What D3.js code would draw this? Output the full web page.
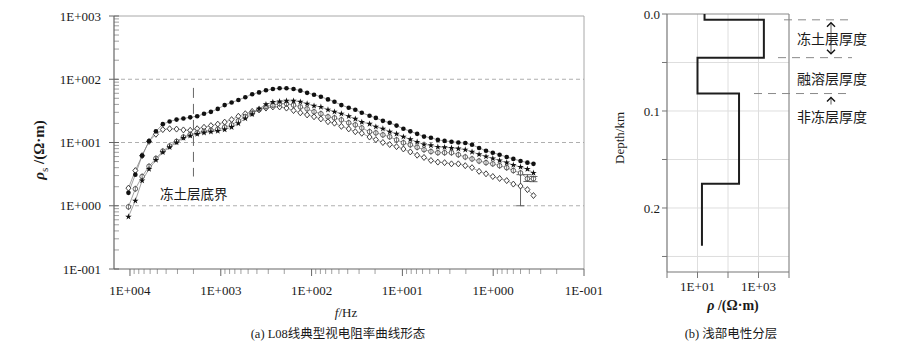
<!DOCTYPE html>
<html>
<head>
<meta charset="utf-8">
<script src="https://cdn.jsdelivr.net/npm/d3@7"></script>
<style>
  body { margin: 0; background: #fff; }
  svg text { font-family: "Liberation Serif", "Times New Roman", serif; fill: #1a1a1a; }
  svg text.cjk { font-family: "Noto Sans CJK SC", sans-serif; }
</style>
</head>
<body>
<svg id="chart" width="900" height="344"></svg>
<script>
// ---- (a) apparent resistivity curves, line L08 ----
const freqHz = [10400, 8730, 7350, 6170, 5180, 4350, 3660, 3070, 2580, 2170,
  1820, 1530, 1285, 1080, 906, 760, 640, 537, 451, 379,
  318, 267, 225, 189, 158, 133, 112, 94, 79, 66,
  56, 47, 39, 33, 28, 23, 19.6, 16.4, 13.8, 11.6,
  9.75, 8.18, 6.88, 5.78, 4.85, 4.07, 3.43, 2.88, 2.42, 2.03,
  1.71, 1.43, 1.2, 1.01, 0.85, 0.71, 0.6, 0.5, 0.42, 0.36];

const rhoDot = [1.6, 3.1, 6.2, 10.5, 15, 19.5, 21.5, 23, 24, 25,
  26, 28.5, 30.5, 34, 39, 43, 47, 52, 58, 62,
  67, 70, 72, 72, 70, 66, 61, 57, 53, 48,
  44, 39, 35.5, 33, 29.5, 26.5, 24.5, 22, 20.5, 18.5,
  16.5, 15, 13.7, 12.4, 11.9, 11, 10.6, 10.3, 10, 9.8,
  9.2, 8.2, 7.4, 6.9, 6.4, 5.9, 5.5, 5.1, 4.8, 4.6];

const rhoStar = [0.67, 1.2, 2.5, 3.8, 5.3, 7.0, 8.4, 10, 11.8, 12.8,
  13.6, 14.3, 14.8, 15.2, 16, 17.5, 20, 24, 28, 34,
  40, 43.5, 44.5, 45.5, 45.5, 44, 41, 38, 36.5, 33,
  30.6, 28.5, 26, 23.6, 21, 19.7, 17.7, 16.5, 14.8, 13.7,
  12.3, 11.2, 10.2, 9.3, 9.0, 8.5, 8.4, 8.2, 8.0, 7.7,
  7.1, 6.5, 6.0, 5.6, 5.2, 4.8, 4.4, 4.1, 3.8, 3.3];

const rhoRing = [0.96, 1.85, 2.9, 4.2, 5.6, 7.3, 8.8, 10.4, 12.2, 13.4,
  14.2, 15, 15.6, 16.2, 17.5, 19, 22, 25.5, 29, 33,
  37, 39, 41, 41, 39, 36.5, 34, 30.6, 28.5, 25.5,
  24.5, 22.8, 20.5, 19, 17, 14.8, 14.2, 13.2, 12.3, 11,
  9.9, 9.2, 8.4, 7.7, 7.2, 6.9, 6.9, 6.9, 6.4, 5.9,
  5.5, 5.1, 4.8, 4.6, 4.3, 4.0, 3.6, 3.3, 2.67, 2.67];

const rhoDiamond = [1.9, 3.6, 6.2, 10.4, 13.5, 16, 16.5, 16.3, 15.8, 15.6,
  16.5, 17.4, 18.5, 19.5, 21, 23, 26, 28.5, 31, 33,
  35, 36.5, 36.5, 35, 32, 29.5, 27.3, 25.5, 23.6, 21.3,
  20.2, 18, 16.4, 14.8, 14, 12.2, 11.1, 10, 9.3, 8.6,
  7.9, 7.1, 6.3, 5.8, 5.2, 4.9, 4.8, 4.6, 4.6, 4.3,
  4.0, 3.5, 3.2, 2.9, 2.7, 2.5, 2.2, 2.05, 1.8, 1.45];

// error bars at the lowest frequencies
const errIndex = [57, 58, 59];
const errLow = [1.0, 2.42, 2.4];
const errHigh = [3.1, 3.1, 2.9];

const yTickValues = [0.1, 1, 10, 100, 1000];
const yTickLabels = ["1E-001", "1E+000", "1E+001", "1E+002", "1E+003"];
const xTickValues = [10000, 1000, 100, 10, 1, 0.1];
const xTickLabels = ["1E+004", "1E+003", "1E+002", "1E+001", "1E+000", "1E-001"];

// frozen-layer base marker
const frozenBaseHz = 2000;
const frozenBaseRho = [2.9, 73];
const frozenBaseLabel = "冻土层底界";

// ---- (b) shallow resistivity layering ----
const layerTop = [0, 0.006, 0.045, 0.082, 0.175];
const layerBottom = [0.006, 0.045, 0.082, 0.175, 0.239];
const layerRho = [17, 1500, 10, 230, 14];
const zoneNames = ["冻土层厚度", "融溶层厚度", "非冻层厚度"];
const depthTicks = [0, 0.05, 0.1, 0.15, 0.2, 0.25];
const depthTickLabels = ["0.0", "0.1", "0.2"];
const rhoTicks = [1, 10, 100, 1000, 10000];
const rhoTickLabels = ["1E+01", "1E+03"];

const svg = d3.select("#chart");

// ================= panel (a) =================
const ax = { left: 114, right: 584, top: 16, bottom: 269 };
const x = d3.scaleLog().domain([Math.pow(10, 4.176), 0.1]).range([ax.left, ax.right]);
const y = d3.scaleLog().domain([0.1, 1000]).range([ax.bottom, ax.top]);

const gA = svg.append("g");

// frame
gA.append("line").attr("x1", ax.left).attr("x2", ax.right).attr("y1", ax.top).attr("y2", ax.top)
  .attr("stroke", "#a8a8a8").attr("stroke-width", 1);
gA.append("line").attr("x1", ax.right).attr("x2", ax.right).attr("y1", ax.top).attr("y2", ax.bottom)
  .attr("stroke", "#a8a8a8").attr("stroke-width", 1);

// dashed gridlines at inner decades
gA.selectAll(".grid").data([1, 10, 100]).join("line")
  .attr("x1", ax.left).attr("x2", ax.right)
  .attr("y1", d => y(d)).attr("y2", d => y(d))
  .attr("stroke", "#9a9a9a").attr("stroke-width", 0.8).attr("stroke-dasharray", "4,3");

// y axis with minor ticks inside
const yMinor = y.ticks().filter(v => !yTickValues.some(t => Math.abs(t - v) < 1e-9));
gA.selectAll(".yminor").data(yMinor).join("line")
  .attr("x1", ax.left).attr("x2", ax.left + 5)
  .attr("y1", d => y(d)).attr("y2", d => y(d))
  .attr("stroke", "#888").attr("stroke-width", 0.8);
gA.selectAll(".ymajor").data(yTickValues).join("line")
  .attr("x1", ax.left - 5).attr("x2", ax.left + 5)
  .attr("y1", d => y(d)).attr("y2", d => y(d))
  .attr("stroke", "#666").attr("stroke-width", 1);
gA.append("line").attr("x1", ax.left).attr("x2", ax.left).attr("y1", ax.top).attr("y2", ax.bottom)
  .attr("stroke", "#666").attr("stroke-width", 1.2);
gA.selectAll(".ylab").data(yTickValues).join("text")
  .attr("x", ax.left - 13).attr("y", d => y(d)).attr("dy", "0.35em")
  .attr("text-anchor", "end").attr("font-size", 13).text((d, i) => yTickLabels[i]);

// x axis with minor ticks below
const xMinor = x.ticks().filter(v => !xTickValues.some(t => Math.abs(t - v) / t < 1e-9));
gA.selectAll(".xminor").data(xMinor).join("line")
  .attr("x1", d => x(d)).attr("x2", d => x(d))
  .attr("y1", ax.bottom).attr("y2", ax.bottom + 5)
  .attr("stroke", "#888").attr("stroke-width", 0.8);
gA.selectAll(".xmajor").data(xTickValues).join("line")
  .attr("x1", d => x(d)).attr("x2", d => x(d))
  .attr("y1", ax.bottom).attr("y2", ax.bottom + 7)
  .attr("stroke", "#666").attr("stroke-width", 1);
gA.append("line").attr("x1", ax.left).attr("x2", ax.right).attr("y1", ax.bottom).attr("y2", ax.bottom)
  .attr("stroke", "#666").attr("stroke-width", 1.2);
gA.selectAll(".xlab").data(xTickValues).join("text")
  .attr("x", d => x(d)).attr("y", 295)
  .attr("text-anchor", "middle").attr("font-size", 13).text((d, i) => xTickLabels[i]);

// axis titles
const yTitle = gA.append("text").attr("transform", "translate(44,150) rotate(-90)")
  .attr("text-anchor", "middle").attr("font-size", 15).attr("font-weight", "bold");
yTitle.append("tspan").attr("font-style", "italic").text("ρ");
yTitle.append("tspan").attr("font-size", 11).attr("font-weight", "normal").attr("dy", 4).text("s");
yTitle.append("tspan").attr("dy", -4).text(" /(Ω·m)");

const xTitle = gA.append("text").attr("x", 346).attr("y", 317).attr("text-anchor", "middle").attr("font-size", 13);
xTitle.append("tspan").attr("font-style", "italic").text("f");
xTitle.append("tspan").text("/Hz");

const capA = gA.append("text").attr("x", 338).attr("y", 338).attr("text-anchor", "middle").attr("font-size", 12.5);
capA.append("tspan").text("(a) L08");
capA.append("tspan").style("font-family", "'Noto Sans CJK SC', sans-serif").text("线典型视电阻率曲线形态");

// frozen base marker
gA.append("line")
  .attr("x1", x(frozenBaseHz)).attr("x2", x(frozenBaseHz))
  .attr("y1", y(frozenBaseRho[1])).attr("y2", y(frozenBaseRho[0]))
  .attr("stroke", "#666").attr("stroke-width", 1).attr("stroke-dasharray", "10,6");
gA.append("text").attr("class", "cjk").attr("x", 160).attr("y", 199)
  .attr("font-size", 13.5).text(frozenBaseLabel);

// series
const series = [
  { vals: rhoDiamond, sym: "diamond" },
  { vals: rhoRing, sym: "ring" },
  { vals: rhoStar, sym: "star" },
  { vals: rhoDot, sym: "dot" }
];
const line = d3.line().x((d, i) => x(freqHz[i])).y(d => y(d));
gA.selectAll(".sline").data(series).join("path")
  .attr("d", s => line(s.vals)).attr("fill", "none")
  .attr("stroke", "#7a7a7a").attr("stroke-width", 0.7);

// error bars
errIndex.forEach((k, j) => {
  const cx = x(freqHz[k]);
  gA.append("line").attr("x1", cx).attr("x2", cx).attr("y1", y(errHigh[j])).attr("y2", y(errLow[j]))
    .attr("stroke", "#555").attr("stroke-width", 0.9);
  [errLow[j], errHigh[j]].forEach(v => {
    gA.append("line").attr("x1", cx - 4).attr("x2", cx + 4).attr("y1", y(v)).attr("y2", y(v))
      .attr("stroke", "#555").attr("stroke-width", 0.9);
  });
});

const starPath = d3.symbol(d3.symbolStar, 13)();
series.forEach(s => {
  const g = gA.append("g");
  s.vals.forEach((v, i) => {
    const px = x(freqHz[i]), py = y(v);
    const m = g.append("g").attr("transform", `translate(${px},${py})`);
    if (s.sym === "dot") {
      m.append("circle").attr("r", 2.3).attr("fill", "#111");
    } else if (s.sym === "star") {
      m.append("path").attr("d", starPath).attr("fill", "#111");
    } else if (s.sym === "diamond") {
      m.append("path").attr("d", "M0,-3L2.5,0L0,3L-2.5,0Z")
        .attr("fill", "#fff").attr("stroke", "#222").attr("stroke-width", 0.85);
    } else {
      m.append("circle").attr("r", 2.3).attr("fill", "#fff").attr("stroke", "#444").attr("stroke-width", 0.85);
      m.append("line").attr("x1", 0).attr("x2", 0).attr("y1", -3.2).attr("y2", 3.2)
        .attr("stroke", "#444").attr("stroke-width", 0.7);
    }
  });
});

// ================= panel (b) =================
const bx = { left: 667, right: 789, top: 14, bottom: 272 };
const xr = d3.scaleLog().domain([1, 10000]).range([bx.left, bx.right]);
const yd = d3.scaleLinear().domain([0, 0.266]).range([bx.top, bx.bottom]);
const gB = svg.append("g");

// light grid
gB.selectAll(".vg").data(rhoTicks.slice(1, -1)).join("line")
  .attr("x1", d => xr(d)).attr("x2", d => xr(d)).attr("y1", bx.top).attr("y2", bx.bottom)
  .attr("stroke", "#dedede").attr("stroke-width", 1);
gB.selectAll(".hg").data(depthTicks.slice(1)).join("line")
  .attr("x1", bx.left).attr("x2", bx.right).attr("y1", d => yd(d)).attr("y2", d => yd(d))
  .attr("stroke", "#dedede").attr("stroke-width", 1);

// frame and axes
gB.append("line").attr("x1", bx.left).attr("x2", bx.right).attr("y1", bx.top).attr("y2", bx.top)
  .attr("stroke", "#8a8a8a").attr("stroke-width", 1);
gB.append("line").attr("x1", bx.right).attr("x2", bx.right).attr("y1", bx.top).attr("y2", bx.bottom)
  .attr("stroke", "#8a8a8a").attr("stroke-width", 1.2);
gB.append("line").attr("x1", bx.left).attr("x2", bx.left).attr("y1", bx.top).attr("y2", bx.bottom)
  .attr("stroke", "#777").attr("stroke-width", 1.2);
gB.append("line").attr("x1", bx.left).attr("x2", bx.right).attr("y1", bx.bottom).attr("y2", bx.bottom)
  .attr("stroke", "#777").attr("stroke-width", 1.2);

gB.selectAll(".yt").data(depthTicks).join("line")
  .attr("x1", bx.left - 5).attr("x2", bx.left).attr("y1", d => yd(d)).attr("y2", d => yd(d))
  .attr("stroke", "#777").attr("stroke-width", 1);
gB.selectAll(".ylabB").data([0, 0.1, 0.2]).join("text")
  .attr("x", bx.left - 7).attr("y", d => yd(d)).attr("dy", "0.35em")
  .attr("text-anchor", "end").attr("font-size", 13).text((d, i) => depthTickLabels[i]);

gB.selectAll(".xt").data(rhoTicks).join("line")
  .attr("x1", d => xr(d)).attr("x2", d => xr(d)).attr("y1", bx.bottom).attr("y2", bx.bottom + 6)
  .attr("stroke", "#777").attr("stroke-width", 1);
gB.selectAll(".xlabB").data([10, 1000]).join("text")
  .attr("x", d => xr(d)).attr("y", 291)
  .attr("text-anchor", "middle").attr("font-size", 13).text((d, i) => rhoTickLabels[i]);

gB.append("text").attr("transform", "translate(624,138) rotate(-90)")
  .attr("text-anchor", "middle").attr("font-size", 13).text("Depth/km");

const xTitleB = gB.append("text").attr("x", 733).attr("y", 310).attr("text-anchor", "middle")
  .attr("font-size", 14).attr("font-weight", "bold");
xTitleB.append("tspan").attr("font-style", "italic").text("ρ");
xTitleB.append("tspan").text(" /(Ω·m)");

const capB = gB.append("text").attr("x", 731).attr("y", 338).attr("text-anchor", "middle").attr("font-size", 12.5);
capB.append("tspan").text("(b) ");
capB.append("tspan").style("font-family", "'Noto Sans CJK SC', sans-serif").text("浅部电性分层");

// layered resistivity step profile
const stepPts = [];
layerRho.forEach((r, i) => {
  stepPts.push([r, layerTop[i]]);
  stepPts.push([r, layerBottom[i]]);
});
gB.append("path")
  .attr("d", d3.line().x(d => xr(d[0])).y(d => yd(d[1]))(stepPts))
  .attr("fill", "none").attr("stroke", "#1e1e1e").attr("stroke-width", 2);

// zone boundaries and labels
const boundaryStart = [784, 778, 754];
const boundaryDepth = layerBottom.slice(0, 3);
gB.selectAll(".bd").data(boundaryDepth).join("line")
  .attr("x1", (d, i) => boundaryStart[i]).attr("x2", 852)
  .attr("y1", d => yd(d)).attr("y2", d => yd(d))
  .attr("stroke", "#8a8a8a").attr("stroke-width", 1).attr("stroke-dasharray", "8,6");

const zoneY = [39, 79, 117];
gB.selectAll(".zn").data(zoneNames).join("text")
  .attr("class", "cjk").attr("x", 797).attr("y", (d, i) => zoneY[i]).attr("dy", "0.35em")
  .attr("font-size", 14).text(d => d);

// thickness arrows
const arrowX = 831;
const chevron = (cx, cy, dir) => `M${cx - 4},${cy + 4 * dir}L${cx},${cy}L${cx + 4},${cy + 4 * dir}`;
gB.append("line").attr("x1", arrowX).attr("x2", arrowX).attr("y1", yd(boundaryDepth[0]) + 3).attr("y2", yd(boundaryDepth[1]) - 4)
  .attr("stroke", "#333").attr("stroke-width", 0.8);
gB.append("path").attr("d", chevron(arrowX, yd(boundaryDepth[0]) + 3, 1)).attr("fill", "none").attr("stroke", "#111").attr("stroke-width", 1.4);
gB.append("path").attr("d", chevron(arrowX, yd(boundaryDepth[1]) - 4, -1)).attr("fill", "none").attr("stroke", "#111").attr("stroke-width", 1.4);
gB.append("line").attr("x1", arrowX).attr("x2", arrowX).attr("y1", yd(boundaryDepth[2]) + 4).attr("y2", yd(boundaryDepth[2]) + 11)
  .attr("stroke", "#333").attr("stroke-width", 0.8);
gB.append("path").attr("d", chevron(arrowX, yd(boundaryDepth[2]) + 4, 1)).attr("fill", "none").attr("stroke", "#111").attr("stroke-width", 1.4);
</script>
</body>
</html>
